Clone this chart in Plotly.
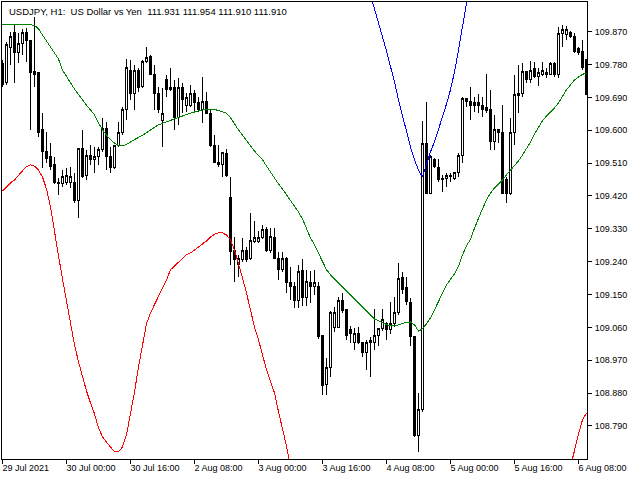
import plotly.graph_objects as go

# H1 bars, 29 Jul 2021 08:00 .. 6 Aug 2021 (weekend skipped)
bar_open = [
    109.784, 109.732, 109.828, 109.869, 109.812, 109.839, 109.867, 109.847, 109.760, 109.757,
    109.601, 109.541, 109.527, 109.505, 109.458, 109.453, 109.456, 109.456, 109.458, 109.409,
    109.549, 109.475, 109.530, 109.521, 109.527, 109.546, 109.606, 109.527, 109.497, 109.557,
    109.593, 109.658, 109.765, 109.702, 109.763, 109.719, 109.787, 109.801, 109.754, 109.702,
    109.626, 109.738, 109.716, 109.716, 109.634, 109.716, 109.669, 109.667, 109.702, 109.675,
    109.656, 109.680, 109.647, 109.557, 109.513, 109.505, 109.535, 109.417, 109.270, 109.231,
    109.245, 109.272, 109.248, 109.294, 109.294, 109.305, 109.327, 109.272, 109.305, 109.250,
    109.218, 109.250, 109.182, 109.171, 109.135, 109.215, 109.143, 109.182, 109.171, 109.171,
    109.037, 108.903, 108.949, 109.061, 109.061, 109.133, 109.108, 109.053, 109.018, 109.042,
    109.018, 108.990, 109.018, 109.018, 109.039, 109.056, 109.072, 109.053, 109.072, 109.102,
    109.196, 109.168, 109.127, 109.034, 108.763, 108.834, 109.565, 109.428, 109.519, 109.497,
    109.467, 109.467, 109.475, 109.469, 109.483, 109.532, 109.686, 109.680, 109.675, 109.675,
    109.669, 109.661, 109.656, 109.568, 109.601, 109.593, 109.464, 109.428, 109.593, 109.694,
    109.702, 109.760, 109.738, 109.768, 109.746, 109.754, 109.757, 109.754, 109.784, 109.752,
    109.864, 109.861, 109.867, 109.858, 109.823, 109.815, 109.793,
]
bar_high = [
    109.793, 109.842, 109.869, 109.889, 109.867, 109.878, 109.880, 109.847, 109.910, 109.760,
    109.647, 109.595, 109.565, 109.527, 109.469, 109.491, 109.497, 109.500, 109.483, 109.552,
    109.601, 109.546, 109.560, 109.554, 109.554, 109.634, 109.623, 109.554, 109.560, 109.623,
    109.664, 109.795, 109.793, 109.779, 109.771, 109.793, 109.828, 109.806, 109.779, 109.719,
    109.716, 109.752, 109.771, 109.738, 109.743, 109.730, 109.702, 109.724, 109.711, 109.691,
    109.746, 109.705, 109.656, 109.587, 109.560, 109.541, 109.549, 109.472, 109.308, 109.259,
    109.305, 109.280, 109.374, 109.352, 109.324, 109.341, 109.335, 109.332, 109.332, 109.267,
    109.267, 109.252, 109.226, 109.185, 109.231, 109.248, 109.218, 109.215, 109.218, 109.185,
    109.037, 108.976, 109.105, 109.116, 109.143, 109.154, 109.108, 109.064, 109.059, 109.061,
    109.020, 109.026, 109.034, 109.111, 109.059, 109.111, 109.075, 109.130, 109.143, 109.237,
    109.212, 109.198, 109.141, 109.034, 108.881, 109.626, 109.678, 109.532, 109.524, 109.521,
    109.478, 109.483, 109.483, 109.486, 109.538, 109.691, 109.689, 109.719, 109.691, 109.700,
    109.691, 109.754, 109.711, 109.642, 109.601, 109.669, 109.472, 109.634, 109.752, 109.779,
    109.784, 109.760, 109.790, 109.787, 109.771, 109.787, 109.771, 109.787, 109.787, 109.883,
    109.889, 109.886, 109.872, 109.867, 109.828, 109.847, 109.793,
]
bar_low = [
    109.719, 109.724, 109.779, 109.730, 109.784, 109.806, 109.787, 109.601, 109.719, 109.582,
    109.497, 109.511, 109.491, 109.453, 109.423, 109.445, 109.450, 109.442, 109.401, 109.360,
    109.470, 109.464, 109.505, 109.483, 109.505, 109.541, 109.491, 109.483, 109.494, 109.554,
    109.587, 109.628, 109.683, 109.656, 109.705, 109.716, 109.784, 109.752, 109.656, 109.647,
    109.554, 109.691, 109.708, 109.601, 109.615, 109.647, 109.650, 109.664, 109.647, 109.650,
    109.620, 109.645, 109.554, 109.511, 109.500, 109.472, 109.472, 109.231, 109.185, 109.198,
    109.239, 109.239, 109.245, 109.291, 109.291, 109.303, 109.267, 109.264, 109.248, 109.190,
    109.212, 109.154, 109.135, 109.113, 109.113, 109.119, 109.119, 109.127, 109.149, 109.028,
    108.875, 108.875, 108.924, 109.048, 109.059, 109.100, 109.026, 109.018, 108.998, 109.015,
    108.979, 108.944, 108.924, 108.998, 109.010, 109.050, 109.026, 109.042, 109.061, 109.094,
    109.152, 109.122, 109.010, 108.760, 108.719, 108.829, 109.428, 109.426, 109.497, 109.458,
    109.431, 109.445, 109.458, 109.464, 109.472, 109.511, 109.664, 109.628, 109.650, 109.647,
    109.637, 109.647, 109.546, 109.546, 109.565, 109.428, 109.401, 109.423, 109.560, 109.647,
    109.691, 109.730, 109.730, 109.743, 109.721, 109.749, 109.743, 109.752, 109.746, 109.743,
    109.828, 109.847, 109.853, 109.812, 109.806, 109.765, 109.697,
]
bar_close = [
    109.724, 109.834, 109.856, 109.812, 109.839, 109.867, 109.847, 109.757, 109.754, 109.595,
    109.541, 109.524, 109.502, 109.456, 109.453, 109.472, 109.475, 109.472, 109.409, 109.549,
    109.472, 109.530, 109.519, 109.527, 109.546, 109.606, 109.527, 109.497, 109.557, 109.593,
    109.658, 109.773, 109.702, 109.763, 109.716, 109.787, 109.798, 109.754, 109.702, 109.656,
    109.647, 109.711, 109.711, 109.634, 109.716, 109.683, 109.691, 109.702, 109.675, 109.656,
    109.680, 109.647, 109.557, 109.513, 109.505, 109.538, 109.475, 109.267, 109.245, 109.250,
    109.272, 109.245, 109.297, 109.305, 109.305, 109.327, 109.270, 109.308, 109.250, 109.218,
    109.250, 109.182, 109.171, 109.135, 109.212, 109.143, 109.185, 109.171, 109.182, 109.034,
    108.900, 108.949, 109.100, 109.100, 109.133, 109.105, 109.039, 109.042, 109.042, 109.018,
    108.990, 109.018, 109.023, 109.039, 109.056, 109.081, 109.053, 109.072, 109.102, 109.193,
    109.163, 109.130, 109.034, 108.763, 108.834, 109.565, 109.428, 109.527, 109.500, 109.464,
    109.464, 109.475, 109.472, 109.483, 109.532, 109.686, 109.680, 109.669, 109.667, 109.667,
    109.656, 109.653, 109.568, 109.601, 109.593, 109.428, 109.428, 109.593, 109.697, 109.702,
    109.760, 109.738, 109.765, 109.746, 109.757, 109.763, 109.754, 109.784, 109.752, 109.864,
    109.875, 109.875, 109.858, 109.815, 109.812, 109.771, 109.697,
]

# moving average (green)
ma_line = [
    109.891, 109.891, 109.891, 109.891, 109.890, 109.889, 109.889, 109.889, 109.887, 109.878,
    109.861, 109.845, 109.828, 109.812, 109.795, 109.765, 109.746, 109.730, 109.713, 109.697,
    109.683, 109.669, 109.656, 109.642, 109.620, 109.601, 109.587, 109.574, 109.565, 109.558,
    109.557, 109.561, 109.568, 109.574, 109.579, 109.587, 109.593, 109.601, 109.609, 109.615,
    109.619, 109.623, 109.627, 109.631, 109.635, 109.639, 109.645, 109.647, 109.650, 109.654,
    109.656, 109.658, 109.658, 109.657, 109.654, 109.650, 109.647, 109.634, 109.617, 109.601,
    109.587, 109.571, 109.557, 109.543, 109.530, 109.519, 109.502, 109.486, 109.467, 109.453,
    109.439, 109.423, 109.409, 109.393, 109.376, 109.357, 109.332, 109.305, 109.286, 109.264,
    109.242, 109.218, 109.204, 109.193, 109.182, 109.171, 109.160, 109.149, 109.138, 109.127,
    109.116, 109.105, 109.094, 109.083, 109.078, 109.072, 109.068, 109.065, 109.064, 109.067,
    109.071, 109.074, 109.075, 109.067, 109.050, 109.056, 109.070, 109.086, 109.108, 109.133,
    109.154, 109.176, 109.190, 109.207, 109.228, 109.259, 109.283, 109.302, 109.332, 109.360,
    109.385, 109.409, 109.428, 109.442, 109.453, 109.464, 109.478, 109.491, 109.502, 109.516,
    109.532, 109.549, 109.568, 109.590, 109.609, 109.626, 109.639, 109.650, 109.661, 109.675,
    109.694, 109.711, 109.724, 109.738, 109.746, 109.753, 109.757,
]

# lower curve (red), None where it runs far below the window
red_line = [
    109.434, 109.445, 109.456, 109.464, 109.478, 109.489, 109.500, 109.505, 109.502, 109.491,
    109.472, 109.439, 109.390, 109.319, 109.256, 109.193, 109.130, 109.072, 109.012, 108.966,
    108.924, 108.886, 108.853, 108.823, 108.785, 108.760, 108.746, 108.733, 108.719, 108.719,
    108.733, 108.766, 108.820, 108.883, 108.952, 109.015, 109.070, 109.100, 109.122, 109.144,
    109.165, 109.190, 109.218, 109.228, 109.239, 109.248, 109.259, 109.264, 109.272, 109.280,
    109.289, 109.297, 109.308, 109.315, 109.319, 109.319, 109.313, 109.300, 109.272, 109.237,
    109.196, 109.154, 109.105, 109.061, 109.026, 108.982, 108.944, 108.911, 108.881, 108.829,
    108.785, 108.735, 108.675,
] + [None] * 69 + [108.678, 108.724, 108.768, 108.807, 108.826]

# upper curve (blue), only around 4 Aug
blue_start = 92
blue_line = [
    109.971, 109.935, 109.894, 109.856, 109.817, 109.776, 109.732, 109.683, 109.639, 109.593,
    109.554, 109.519, 109.491, 109.472, 109.508, 109.541, 109.568, 109.601, 109.637, 109.672,
    109.711, 109.760, 109.820, 109.883, 109.952, 110.012,
]

tick_pos = [0, 16, 32, 48, 64, 80, 96, 112, 128, 144]
tick_text = ["29 Jul 2021", "30 Jul 00:00", "30 Jul 16:00", "2 Aug 08:00", "3 Aug 00:00",
             "3 Aug 16:00", "4 Aug 08:00", "5 Aug 00:00", "5 Aug 16:00", "6 Aug 08:00"]
price_ticks = [108.790, 108.880, 108.970, 109.060, 109.150, 109.240, 109.330,
               109.420, 109.510, 109.600, 109.690, 109.780, 109.870]

title = "USDJPY, H1:\u00a0 US Dollar vs Yen\u00a0 111.931 111.954 111.910 111.910"

idx = list(range(len(bar_open)))
font = dict(family="Liberation Sans, Arial, sans-serif", size=9, color="black")

fig = go.Figure()
fig.add_trace(go.Scatter(x=idx, y=ma_line, mode="lines", line=dict(color="#008000", width=1)))
fig.add_trace(go.Scatter(x=idx, y=red_line, mode="lines", line=dict(color="#ff0000", width=1),
                         connectgaps=False))
fig.add_trace(go.Scatter(x=list(range(blue_start, blue_start + len(blue_line))), y=blue_line,
                         mode="lines", line=dict(color="#0000ff", width=1)))
fig.add_trace(go.Candlestick(
    x=idx, open=bar_open, high=bar_high, low=bar_low, close=bar_close,
    increasing=dict(line=dict(color="black", width=1), fillcolor="white"),
    decreasing=dict(line=dict(color="black", width=1), fillcolor="black"),
    whiskerwidth=0,
))

fig.update_layout(
    width=640, height=480,
    margin=dict(l=2, r=53, t=2, b=21),
    paper_bgcolor="white", plot_bgcolor="white",
    showlegend=False,
    font=font,
    boxgap=0.5,
    xaxis=dict(
        range=[-0.125, 146.125], rangeslider=dict(visible=False),
        tickvals=tick_pos, ticktext=tick_text, ticks="outside", ticklen=4,
        tickcolor="black", ticklabelposition="outside right",
        ticklabelstandoff=0, ticklabelshift=-1, ticklabeloverflow="allow",
        showgrid=False, zeroline=False,
        showline=True, linecolor="black", linewidth=1, mirror=True,
    ),
    yaxis=dict(
        range=[108.6996, 109.9513], side="right",
        tickvals=price_ticks, tickformat=".3f", ticks="outside", ticklen=4,
        tickcolor="black", ticklabelstandoff=1,
        showgrid=False, zeroline=False,
        showline=True, linecolor="black", linewidth=1, mirror=True,
    ),
    annotations=[dict(
        text=title, xref="paper", yref="paper", x=0, y=1,
        xanchor="left", yanchor="top", xshift=5, yshift=-2,
        showarrow=False, font=dict(family=font["family"], size=9.5, color="black"),
    )],
)

# no page margin, and hard-edged candles/lines like the terminal draws them
page_fix = (
    "document.body.style.margin = '0';"
    "document.head.insertAdjacentHTML('beforeend',"
    " '<style>.boxlayer path, .scatterlayer path {shape-rendering: crispEdges;}</style>');"
)
fig.write_html("out.html", config={"displayModeBar": False}, post_script=page_fix)
